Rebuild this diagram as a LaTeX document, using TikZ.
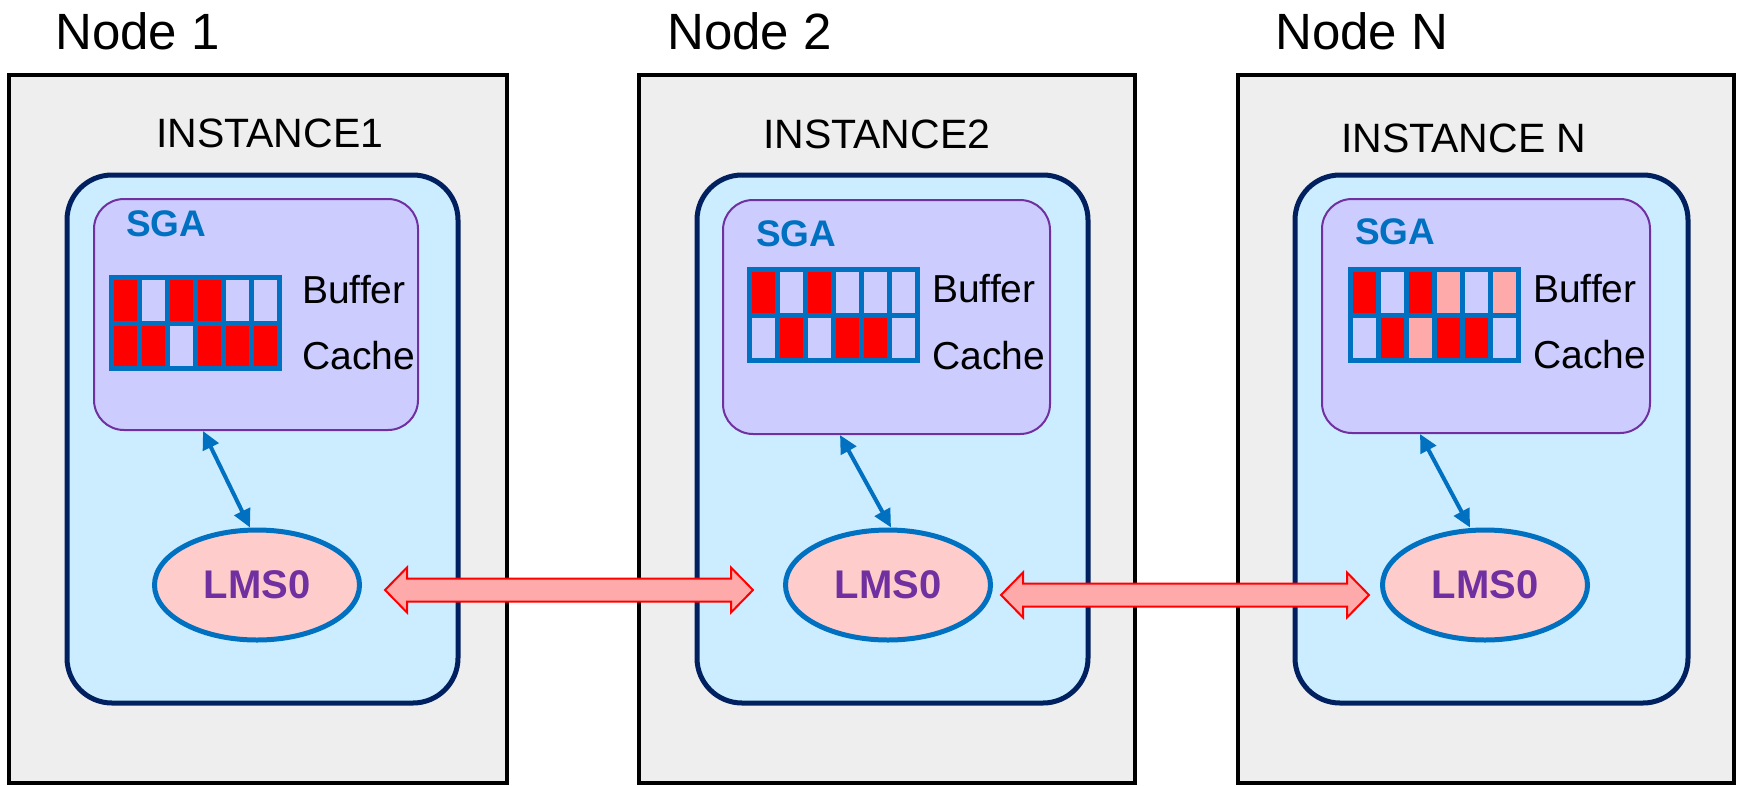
\documentclass[tikz,border=0pt]{standalone}
\usepackage{fontspec}
\setmainfont{Liberation Sans}
\usetikzlibrary{calc,shapes.geometric,arrows.meta}

\definecolor{hostgray}{HTML}{EEEEEE}
\definecolor{instfill}{HTML}{CCECFF}
\definecolor{instline}{HTML}{002060}
\definecolor{sgafill}{HTML}{CCCCFF}
\definecolor{sgaline}{HTML}{7030A0}
\definecolor{oblue}{HTML}{0070C0}
\definecolor{lmsfill}{HTML}{FFCCCC}
\definecolor{lmstext}{HTML}{7030A0}
\definecolor{cellR}{HTML}{FF0000}
\definecolor{cellL}{HTML}{CCCCFF}
\definecolor{cellP}{HTML}{FFAAAA}

\tikzset{
  hostbox/.style={draw=black, fill=hostgray, line width=4.5pt, inner sep=0},
  instbox/.style={draw=instline, fill=instfill, line width=5pt, rounded corners=45pt, inner sep=0},
  sgabox/.style={draw=sgaline, fill=sgafill, line width=2pt, rounded corners=30pt, inner sep=0},
  lms/.style={ellipse, draw=oblue, fill=lmsfill, line width=5pt, inner sep=0,
    minimum width=205pt, minimum height=110pt, text=lmstext, font=\fontsize{40}{48}\selectfont\bfseries},
  hosttitle/.style={anchor=base west, inner sep=0, font=\fontsize{51}{60}\selectfont},
  insttitle/.style={anchor=base west, inner sep=0, font=\fontsize{41}{48}\selectfont},
  sgatitle/.style={anchor=base west, inner sep=0, text=oblue, font=\fontsize{37}{44}\selectfont\bfseries},
  cachetext/.style={anchor=base west, inner sep=0, font=\fontsize{39}{46}\selectfont},
  gridline/.style={draw=oblue, line width=5pt},
  syncarrow/.style={draw=oblue, line width=4pt, {Triangle[length=18pt,width=17pt]}-{Triangle[length=18pt,width=17pt]}},
  linkarrow/.style={draw=red, fill=cellP, line width=2pt, line join=miter}
}

\newcommand\cachegrid[3]{%
\begin{scope}[shift={#1}]
\foreach \c [count=\i from 0] in {#2} \fill[fill=cell\c] (28*\i,0) rectangle ++(28,45.5);
\foreach \c [count=\i from 0] in {#3} \fill[fill=cell\c] (28*\i,45.5) rectangle ++(28,45.5);
\foreach \i in {1,...,5} \draw[gridline] (28*\i,0) -- (28*\i,91);
\draw[gridline] (0,45.5) -- (168,45.5);
\draw[gridline] (0,0) rectangle (168,91);
\end{scope}}

\newcommand\lmslink[2]{%
\draw[linkarrow] (#1) -- ++(22,-22.5) -- ++(0,11) -- ($(#2)+(-22,-11.5)$) -- ++(0,-11) -- (#2)
  -- ++(-22,22.5) -- ++(0,-11) -- ($(#1)+(22,11.5)$) -- ++(0,11) -- cycle;}

\begin{document}
\begin{tikzpicture}[x=1pt,y=-1pt]
\useasboundingbox (0,0) rectangle (1742,785);

\node[hostbox, minimum width=498pt, minimum height=708pt] (host1) at (258,429) {};
\node[hostbox, minimum width=496pt, minimum height=708pt] (host2) at (887,429) {};
\node[hostbox, minimum width=496pt, minimum height=708pt] (host3) at (1486,429) {};
\node[hosttitle] (title1) at (55,49) {Node 1};
\node[hosttitle] (title2) at (667,49) {Node 2};
\node[hosttitle] (title3) at (1275,49) {Node N};

\node[insttitle] (iname1) at (156,147) {INSTANCE1};
\node[insttitle] (iname2) at (763,148) {INSTANCE2};
\node[insttitle] (iname3) at (1341,152) {INSTANCE N};
\node[instbox, minimum width=391pt, minimum height=528pt] (inst1) at (262.5,439) {};
\node[instbox, minimum width=391pt, minimum height=528pt] (inst2) at (892.5,439) {};
\node[instbox, minimum width=393pt, minimum height=528pt] (inst3) at (1491.5,439) {};

\node[sgabox, minimum width=324pt, minimum height=231pt] (sga1) at (256,314.5) {};
\node[sgabox, minimum width=327pt, minimum height=234pt] (sga2) at (886.5,317) {};
\node[sgabox, minimum width=328pt, minimum height=234pt] (sga3) at (1486,316) {};
\node[sgatitle] (sganame1) at (126,236) {SGA};
\node[sgatitle] (sganame2) at (756,246) {SGA};
\node[sgatitle] (sganame3) at (1355,244) {SGA};

\cachegrid{(111.5,277.5)}{R,L,R,R,L,L}{R,R,L,R,R,R}
\cachegrid{(749.5,269.5)}{R,L,R,L,L,L}{L,R,L,R,R,L}
\cachegrid{(1350.5,269.5)}{R,L,R,P,L,P}{L,R,P,R,R,L}

\node[cachetext] (buf1) at (302,303) {Buffer};
\node[cachetext] (cache1) at (302,369) {Cache};
\node[cachetext] (buf2) at (932,302) {Buffer};
\node[cachetext] (cache2) at (932,369) {Cache};
\node[cachetext] (buf3) at (1533,302) {Buffer};
\node[cachetext] (cache3) at (1533,368) {Cache};

\node[lms] (lms1) at (257,585) {LMS0};
\node[lms] (lms2) at (888,585) {LMS0};
\node[lms] (lms3) at (1485,585) {LMS0};

\draw[syncarrow] ([xshift=-53pt]sga1.south) -- ([xshift=-7pt]lms1.north);
\draw[syncarrow] ([xshift=-46.5pt]sga2.south) -- ([xshift=3pt]lms2.north);
\draw[syncarrow] ([xshift=-66pt]sga3.south) -- ([xshift=-15pt]lms3.north);

\coordinate (l1) at ($(lms1.east)+(23,5)$);
\coordinate (r1) at ($(lms2.west)+(-30,5)$);
\coordinate (l2) at ($(lms2.east)+(8,10)$);
\coordinate (r2) at ($(lms3.west)+(-11,10)$);
\lmslink{l1}{r1}
\lmslink{l2}{r2}
\end{tikzpicture}
\end{document}
